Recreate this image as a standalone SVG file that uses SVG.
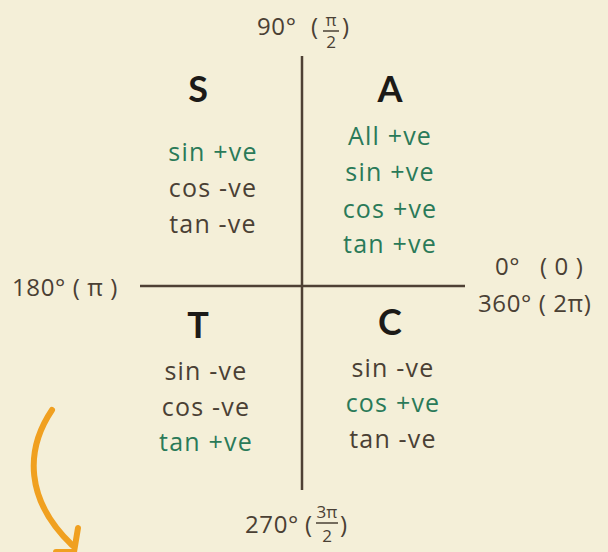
<svg xmlns="http://www.w3.org/2000/svg" width="608" height="552" viewBox="0 0 608 552">
<style>
.t{font-family:"Open Sans","Liberation Sans",sans-serif;font-size:25px;letter-spacing:1.2px;fill:#4a4034;text-anchor:middle}
.g{fill:#2a7a58}
.big{font-family:"Lato","Liberation Sans",sans-serif;font-size:36px;font-weight:bold;fill:#1c1a17;text-anchor:middle}
.lab{font-family:"Open Sans","Liberation Sans",sans-serif;font-size:24px;letter-spacing:0.6px;fill:#4a4034}
.fr{font-family:"Open Sans","Liberation Sans",sans-serif;font-size:17px;fill:#4a4034;text-anchor:middle}
.ax{stroke:#4e4034;stroke-width:2.5;fill:none}
</style>
<rect width="608" height="552" fill="#f4efd8"/>
<g id="connectors">
<line class="ax" x1="302" y1="56" x2="302" y2="490"/>
<line class="ax" x1="140" y1="286" x2="465" y2="286"/>
<path d="M52,410 C25,450 25,500 72,545" stroke="#f0a020" stroke-width="6" fill="none" stroke-linecap="round"/>
<path d="M78,528 L74,552 L56,552" stroke="#f0a020" stroke-width="6" fill="none" stroke-linecap="round" stroke-linejoin="round"/>
</g>
<g id="label-90">
<text class="lab" x="257" y="35">90°</text>
<text class="lab" x="311" y="35">(</text>
<text class="fr" x="331" y="26">π</text>
<line x1="323" y1="31" x2="339" y2="31" stroke="#4a4034" stroke-width="1.5"/>
<text class="fr" x="331" y="48">2</text>
<text class="lab" x="342" y="35">)</text>
</g>
<g id="label-180"><text class="lab" x="12" y="296">180° ( π )</text></g>
<g id="label-0">
<text class="lab" x="495" y="275">0°</text>
<text class="lab" x="540" y="275">( 0 )</text>
<text class="lab" x="478" y="312">360° ( 2π)</text>
</g>
<g id="label-270">
<text class="lab" x="245" y="533">270°</text>
<text class="lab" x="305" y="533">(</text>
<text class="fr" x="327" y="518">3π</text>
<line x1="316" y1="523" x2="338" y2="523" stroke="#4a4034" stroke-width="1.5"/>
<text class="fr" x="327" y="542">2</text>
<text class="lab" x="340" y="533">)</text>
</g>
<g id="quadrant-S">
<text class="big" x="198" y="102">S</text>
<text class="t g" x="213" y="161">sin +ve</text>
<text class="t" x="213" y="197">cos -ve</text>
<text class="t" x="213" y="233">tan -ve</text>
</g>
<g id="quadrant-A">
<text class="big" x="390" y="102">A</text>
<text class="t g" x="390" y="145">All +ve</text>
<text class="t g" x="390" y="181">sin +ve</text>
<text class="t g" x="390" y="218">cos +ve</text>
<text class="t g" x="390" y="253">tan +ve</text>
</g>
<g id="quadrant-T">
<text class="big" x="198" y="338">T</text>
<text class="t" x="206" y="380">sin -ve</text>
<text class="t" x="206" y="416">cos -ve</text>
<text class="t g" x="206" y="451">tan +ve</text>
</g>
<g id="quadrant-C">
<text class="big" x="390" y="335">C</text>
<text class="t" x="393" y="377">sin -ve</text>
<text class="t g" x="393" y="412">cos +ve</text>
<text class="t" x="393" y="448">tan -ve</text>
</g>
</svg>
